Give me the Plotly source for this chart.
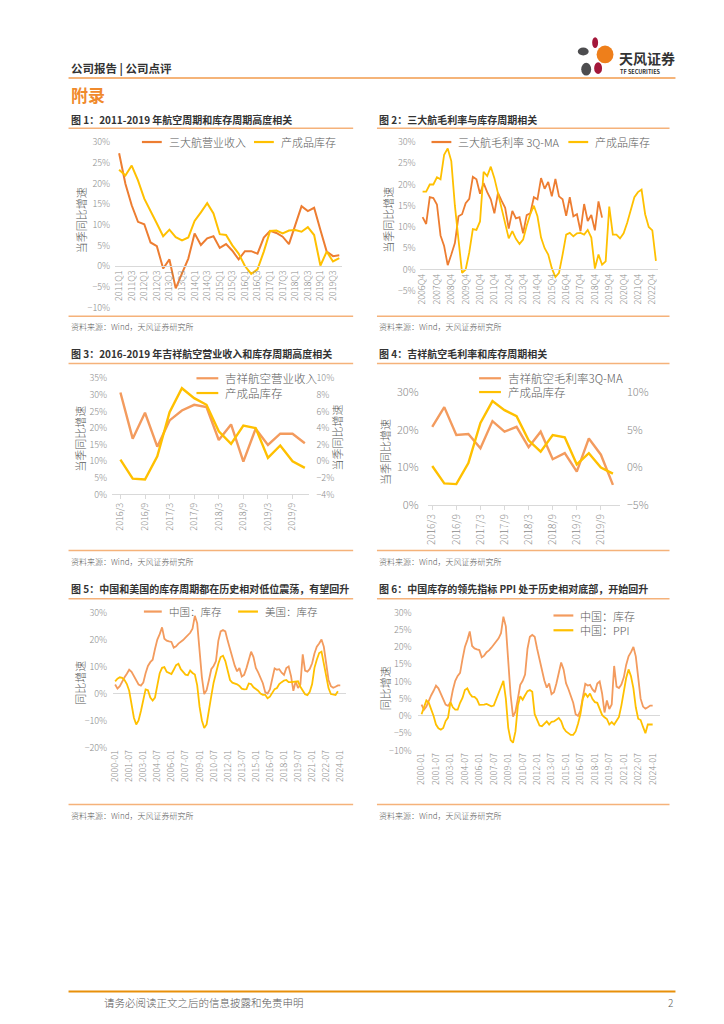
import pandas as pd
import plotly.graph_objects as go

W, H = 724, 1024


def X(px):
    return px / W


def Y(py):
    return 1 - py / H


FONT = "Noto Sans CJK SC"
ORANGE = "#ED7D31"
ORANGE_L = "#F39B5E"
YELLOW = "#FFC000"
RULE = "#F5B27A"
TICK = "#8C8C8C"
TXT = "#595959"
AXIS = "#D9D9D9"

# ---------------- data ----------------
# Chart 1 : 2011Q1 - 2019Q4
c1_quarters = [f"{y}Q{q}" for y in range(2011, 2020) for q in range(1, 5)]
c1_names = ["三大航营业收入", "产成品库存"]
c1_airline_rev = [27.3, 19.9, 14.7, 10.7, 10.1, 5.7, 4.8, -0.6, 1.6, -5.4, -1.8, 1.8,
                  7.9, 5.1, 6.7, 7.2, 4.4, 5.3, 3.7, 1.6, 3.6, 3.6, 3.0, 6.9,
                  8.5, 8.0, 7.1, 5.3, 9.9, 14.5, 13.3, 14.1, 8.7, 3.5, 2.4, 2.6]
c1_inventory = [23.3, 21.9, 24.3, 20.7, 16.3, 13.1, 10.3, 7.2, 8.8, 7.0, 6.2, 6.9,
                10.9, 13.0, 15.2, 12.7, 7.7, 7.5, 5.0, 3.0, 0.0, -1.9, -0.8, 3.5,
                8.5, 8.6, 7.9, 8.6, 8.7, 8.3, 9.4, 7.5, 0.1, 3.5, 1.1, 1.9]

# Chart 2 : 2006Q4 - 2023Q1
c2_quarters = ["2006Q4"] + [f"{y}Q{q}" for y in range(2007, 2023) for q in range(1, 5)] + ["2023Q1"]
c2_names = ["三大航毛利率 3Q-MA", "产成品库存"]
c2_margin = [12.3, 10.7, 17.0, 16.8, 15.3, 8.0, 5.5, 1.0, 3.5, 6.2, 12.5, 13.0, 15.6,
             16.6, 21.8, 21.2, 17.8, 20.3, 18.2, 16.5, 13.2, 18.0, 16.2, 14.5, 9.6,
             13.8, 12.0, 12.3, 8.5, 12.8, 13.2, 17.0, 16.5, 21.5, 19.0, 20.6, 17.2,
             21.3, 17.2, 16.5, 12.6, 17.0, 12.5, 13.0, 9.0, 15.4, 11.4, 12.8, 9.2,
             16.0, 12.2]
c2_inventory = [18.3, 18.3, 20.0, 20.0, 21.7, 21.2, 27.0, 28.5, 25.5, 15.0, 7.0, -0.8,
                0.0, 4.0, 9.5, 9.3, 11.3, 23.0, 22.0, 24.2, 21.5, 18.0, 14.0, 10.5,
                7.3, 9.0, 7.2, 6.0, 7.0, 10.3, 13.0, 15.0, 12.5, 7.5, 5.0, 3.5, 0.3,
                -1.8, -0.8, 3.5, 8.2, 8.6, 7.8, 8.5, 8.6, 8.2, 9.3, 7.5, 0.2, 3.5,
                1.1, 1.9, 14.8, 8.2, 8.2, 7.3, 8.5, 11.0, 13.8, 17.0, 18.2, 18.8,
                13.0, 10.0, 9.2, 2.0]

# Charts 3 & 4 : 2016/3 - 2019/12
c34_periods = [f"{y}/{m}" for y in range(2016, 2020) for m in (3, 6, 9, 12)]
c3_names = ["吉祥航空营业收入", "产成品库存"]
c4_names = ["吉祥航空毛利率3Q-MA", "产成品库存"]
c3_revenue = [30.7, 16.8, 24.6, 14.4, 22.3, 25.3, 27.0, 26.3, 16.4, 21.1, 9.9, 19.8,
              14.9, 18.3, 18.3, 15.4]
c4_margin = [20.8, 26.0, 18.6, 18.9, 15.1, 22.3, 19.5, 20.8, 15.4, 19.5, 12.2, 13.8,
             8.9, 17.7, 13.4, 5.4]
jx_inventory = [0.2, -2.1, -2.2, 0.6, 5.9, 8.8, 7.6, 6.8, 3.6, 2.1, 4.3, 4.0, 0.4,
                1.9, 0.0, -0.8]

# Charts 5 & 6 : quarterly readings 2000-01 onward
c56_dates = pd.date_range("2000-01-01", periods=97, freq="QS").strftime("%Y-%m-%d").tolist()
c56_ticks = ["2000-01", "2001-07", "2003-01", "2004-07", "2006-01", "2007-07", "2009-01",
             "2010-07", "2012-01", "2013-07", "2015-01", "2016-07", "2018-01", "2019-07",
             "2021-01", "2022-07", "2024-01"]
c5_names = ["中国：库存", "美国：库存"]
c6_names = ["中国：库存", "中国：PPI"]
china_inventory = [3.3, 1.8, 2.7, 4.5, 6.0, 7.3, 8.8, 8.0, 6.5, 4.7,
                   3.3, 2.9, 4.0, 7.5, 10.2, 11.6, 12.5, 16.5, 20.0, 22.0,
                   24.5, 20.3, 19.6, 19.3, 19.1, 17.0, 17.5, 18.5, 19.0, 19.8,
                   20.7, 21.7, 22.5, 24.0, 28.8, 26.0, 16.6, 6.0, -0.2, 1.2,
                   5.0, 9.0, 10.2, 12.0, 19.5, 23.0, 23.5, 23.0, 19.5, 16.5,
                   13.0, 10.3, 8.2, 9.4, 6.3, 6.9, 9.4, 12.5, 15.5, 13.5,
                   9.5, 7.8, 6.0, 3.8, 0.5, 0.0, 1.5, 5.0, 9.3, 8.8,
                   9.0, 7.7, 6.9, 9.4, 10.0, 6.5, 1.0, 4.5, 2.0, 3.3,
                   14.5, 8.5, 8.1, 9.1, 11.2, 14.8, 17.3, 18.5, 20.0, 17.3,
                   11.2, 5.0, 2.7, 2.1, 2.5, 3.0, 3.0]
us_inventory = [4.5, 5.5, 6.0, 5.8, 5.0, 3.5, 1.0, -4.5, -9.0, -11.5,
                -10.0, -6.5, -2.5, 1.5, 1.2, -1.5, -2.6, -1.5, 3.0, 7.5,
                9.5, 9.8, 8.0, 7.5, 7.2, 8.8, 10.5, 11.0, 9.0, 8.0,
                7.0, 6.8, 8.5, 7.6, 7.0, 3.0, -5.0, -10.0, -12.8, -11.5,
                -5.5, -1.0, 4.0, 8.0, 11.0, 13.5, 14.0, 12.0, 8.5, 5.0,
                4.0, 3.8, 3.4, 2.8, 1.8, 1.5, 1.6, 3.7, 3.5, 2.3,
                1.7, 1.0, 0.0, -0.5, -0.5, -1.8, -1.2, 0.3, 1.6, 2.0,
                3.5, 4.2, 4.8, 5.0, 4.2, 4.2, 4.3, 4.2, 4.5, 2.5,
                1.0, -0.3, -0.6, 0.6, 3.5, 9.5, 12.5, 15.0, 15.5, 11.0,
                6.5, 2.0, -0.2, -0.3, -0.6, 0.8]
china_ppi = [0.5, 2.5, 4.5, 3.8, 2.0, 0.0, -2.5, -3.6, -4.0, -3.5,
             -1.5, -0.5, 4.0, 2.5, 1.8, 1.8, 3.8, 5.2, 7.5, 8.0,
             6.5, 5.6, 5.5, 4.8, 3.2, 3.2, 3.3, 3.5, 3.2, 2.8,
             3.0, 4.8, 7.0, 8.8, 10.2, 5.0, -3.5, -7.0, -7.8, -4.5,
             3.0, 5.7, 4.7, 6.0, 7.2, 7.5, 7.0, 0.5, -1.2, -2.8,
             -3.0, -2.2, -1.6, -2.5, -1.7, -1.6, -1.2, -0.6, -1.5, -3.5,
             -4.5, -5.0, -5.5, -5.5, -4.5, -2.3, 0.5, 5.0, 6.6, 5.5,
             6.5, 4.9, 4.0, 3.8, 1.8, 0.3, -0.4, -0.9, -2.5, -1.8,
             -2.5, -1.5, -0.3, 3.0, 7.5, 11.0, 13.5, 11.5, 8.0, 2.5,
             -0.8, -1.2, -3.2, -5.0, -2.5, -2.5, -2.5]

# ---------------- figure ----------------
fig = go.Figure()


def line(xv, yv, color, width, xa, ya, name):
    fig.add_trace(go.Scatter(x=xv, y=yv, mode="lines", name=name,
                             line=dict(color=color, width=width),
                             xaxis=xa, yaxis=ya, showlegend=False,
                             hoverinfo="skip"))


line(c1_quarters, c1_airline_rev, ORANGE, 2, "x", "y", c1_names[0])
line(c1_quarters, c1_inventory, YELLOW, 2, "x", "y", c1_names[1])

line(c2_quarters[:len(c2_margin)], c2_margin, ORANGE, 1.8, "x2", "y2", c2_names[0])
line(c2_quarters, c2_inventory, YELLOW, 1.8, "x2", "y2", c2_names[1])

line(c34_periods, c3_revenue, ORANGE_L, 2.4, "x3", "y3", c3_names[0])
line(c34_periods, jx_inventory, YELLOW, 2.4, "x3", "y4", c3_names[1])

line(c34_periods, c4_margin, ORANGE_L, 2.4, "x4", "y5", c4_names[0])
line(c34_periods, jx_inventory, YELLOW, 2.4, "x4", "y6", c4_names[1])

line(c56_dates[:len(china_inventory)], china_inventory, ORANGE_L, 1.8, "x5", "y7", c5_names[0])
line(c56_dates[:len(us_inventory)], us_inventory, YELLOW, 1.8, "x5", "y7", c5_names[1])

line(c56_dates[:len(china_inventory)], china_inventory, ORANGE_L, 1.8, "x6", "y8", c6_names[0])
line(c56_dates[:len(china_ppi)], china_ppi, YELLOW, 1.8, "x6", "y8", c6_names[1])

tickfont9 = dict(family=FONT, size=9, color=TICK, weight=300)
tickfont11 = dict(family=FONT, size=11, color=TICK, weight=300)


def xcat(dom, rng, tickvals, anchor, position=None, ticks="", font=tickfont9):
    d = dict(domain=[X(dom[0]), X(dom[1])], type="category", range=rng,
             tickmode="array", tickvals=tickvals, ticktext=tickvals,
             tickangle=-90, tickfont=font, showline=True, linecolor=AXIS,
             linewidth=1, showgrid=False, zeroline=False, ticks=ticks,
             ticklen=4, tickcolor=AXIS, fixedrange=True)
    if position is not None:
        d["anchor"] = "free"
        d["position"] = Y(position)
    else:
        d["anchor"] = anchor
    return d


def yval(dom, rng, dtick, anchor, font=tickfont9, side="left", overlay=None,
         zeroline=False, standoff=4):
    d = dict(domain=[Y(dom[0]), Y(dom[1])], range=rng, dtick=dtick,
             ticksuffix="%", tickfont=font, showgrid=False, showline=False,
             zeroline=zeroline, zerolinecolor=AXIS, zerolinewidth=1,
             anchor=anchor, side=side, ticks="", ticklabelstandoff=standoff,
             fixedrange=True)
    if overlay:
        d["overlaying"] = overlay
        d.pop("domain")
    return d


def xdate(dom, rng):
    return dict(domain=[X(dom[0]), X(dom[1])], type="date", range=rng,
                tickmode="array", tickvals=c56_ticks, ticktext=c56_ticks,
                tickangle=-90, tickfont=tickfont9, showline=False,
                showgrid=False, zeroline=False, ticks="", fixedrange=True)


c2_q4 = [q for q in c2_quarters if q.endswith("Q4")]

fig.update_layout(
    width=W, height=H, autosize=False,
    margin=dict(l=0, r=0, t=0, b=0),
    paper_bgcolor="white", plot_bgcolor="rgba(0,0,0,0)",
    font=dict(family=FONT, color=TXT),
    showlegend=False,
    xaxis=xcat((103, 332), [-0.63, 35.47], c1_quarters[::2], "y", position=252.7),
    yaxis=yval((295, 127), [-10, 30], 5, "x"),
    xaxis2=xcat((410, 650), [-0.83, 65.47], c2_q4, "y2", position=256.4),
    yaxis2=yval((278, 127), [-5, 30], 5, "x2", standoff=3),
    xaxis3=xcat((100, 298), [-0.67, 15.3], c34_periods[::2], "y3", ticks="outside"),
    yaxis3=yval((485, 367), [0, 35], 5, "x3"),
    yaxis4=yval((485, 367), [-4, 10], 2, "x3", side="right", overlay="y3", standoff=7),
    xaxis4=xcat((418, 612), [-0.39, 15.58], c34_periods[::2], "y5", ticks="outside",
                font=dict(family=FONT, size=10, color=TICK, weight=300)),
    yaxis5=yval((496, 381), [0, 30], 10, "x4", font=tickfont11, standoff=8),
    yaxis6=yval((496, 381), [-5, 10], 5, "x4", font=tickfont11, side="right",
                overlay="y5", standoff=6),
    xaxis5=xdate((101, 336), ["1999-10-16", "2024-08-20"]),
    yaxis7=yval((742, 605), [-20, 30], 10, "x5", zeroline=True, standoff=5),
    xaxis6=xdate((408, 652), ["1999-08-04", "2024-09-20"]),
    yaxis8=yval((745, 605), [-10, 30], 5, "x6", zeroline=True, standoff=5),
)
fig.update_layout(xaxis5=dict(anchor="y7"), xaxis6=dict(anchor="y8"))

shapes = []
annotations = []


def hline(x0, x1, y, color, width=1.5):
    shapes.append(dict(type="line", xref="paper", yref="paper", x0=X(x0), x1=X(x1),
                       y0=Y(y), y1=Y(y), line=dict(color=color, width=width)))


def text(x, y, s, size, color=TXT, bold=False, xanchor="left", angle=0):
    annotations.append(dict(xref="paper", yref="paper", x=X(x), y=Y(y),
                            text=f"<b>{s}</b>" if bold else s, showarrow=False,
                            xanchor=xanchor, yanchor="middle", textangle=angle,
                            font=dict(family=FONT, size=size, color=color,
                                      weight=700 if bold else 300)))


def ellipse(cx, cy, rx, ry, color):
    shapes.append(dict(type="circle", xref="paper", yref="paper",
                       x0=X(cx - rx), x1=X(cx + rx), y0=Y(cy + ry), y1=Y(cy - ry),
                       fillcolor=color, line=dict(width=0)))


# header
text(56, 52, "公司报告 | 公司点评", 11.5, "#333333", bold=True)
hline(56, 668, 62, "#F29B4C", 1.5)
text(56, 79, "附录", 17, "#F08A2C", bold=True)
ellipse(575, 35, 5.5, 4, "#4D4D4F")
ellipse(587, 26, 3, 5.5, "#A3173A")
ellipse(597, 38, 8.5, 9, "#EE7F1B")
ellipse(590, 52, 4, 6, "#A3173A")
ellipse(578, 53, 5, 6.5, "#4D4D4F")
text(639, 42, "天风证券", 14, "#333333", bold=True, xanchor="center")
text(610, 56, "TF SECURITIES", 5.5, "#333333", bold=True)

# chart titles, rules, sources
titles = [
    (56, 104, "图 1：2011-2019 年航空周期和库存周期高度相关"),
    (367, 104, "图 2：三大航毛利率与库存周期相关"),
    (56, 342, "图 3：2016-2019 年吉祥航空营业收入和库存周期高度相关"),
    (367, 342, "图 4：吉祥航空毛利率和库存周期相关"),
    (56, 581, "图 5：中国和美国的库存周期都在历史相对低位震荡，有望回升"),
    (367, 581, "图 6：中国库存的领先指标 PPI 处于历史相对底部，开始回升"),
]
for x, y, s in titles:
    text(x, y, s, 10, "#333333", bold=True)

for top, bottom, src in [(113, 304, 314), (352, 542, 553), (591, 800, 811)]:
    hline(56, 343, top, RULE)
    hline(367, 662, top, RULE)
    hline(56, 343, bottom, RULE)
    hline(367, 662, bottom, RULE)
    text(56, src, "资料来源：Wind，天风证券研究所", 8, TXT)
    text(367, src, "资料来源：Wind，天风证券研究所", 8, TXT)

# axis titles
for x, y, s in [(68, 206, "当季同比增速"), (378, 206, "当季同比增速"),
                (68, 428, "当季同比增速"), (327, 427, "当季同比增速"),
                (375, 442, "当季同比增速"), (68, 676, "同比增速"),
                (375, 682, "同比增速")]:
    text(x, y, s, 11, TXT, xanchor="center", angle=-90)


# legends
def legend_item(x0, x1, y, color, label, size=11):
    hline(x0, x1, y, color, 2.2)
    text(x1 + 5, y, label, size, TXT)


legend_item(130, 150, 127, ORANGE, c1_names[0])
legend_item(243, 263, 127, YELLOW, c1_names[1])
legend_item(422, 442, 127, ORANGE, c2_names[0])
legend_item(560, 580, 127, YELLOW, c2_names[1])
legend_item(185, 207, 367, ORANGE_L, c3_names[0], 11.5)
legend_item(185, 207, 382, YELLOW, c3_names[1], 11.5)
legend_item(470, 492, 367, ORANGE_L, c4_names[0], 11.5)
legend_item(470, 492, 381, YELLOW, c4_names[1], 11.5)
legend_item(132, 150, 604, ORANGE_L, c5_names[0], 10.5)
legend_item(227, 247, 604, YELLOW, c5_names[1], 10.5)
legend_item(545, 565, 608, ORANGE_L, c6_names[0], 11)
legend_item(545, 565, 623, YELLOW, c6_names[1], 11)

# footer
hline(56, 668, 990, "#E8900A", 2)
text(90, 1001, "请务必阅读正文之后的信息披露和免责申明", 10.5, TXT)
text(668, 1001, "2", 10, TXT, xanchor="right")

fig.update_layout(shapes=shapes, annotations=annotations)
fig.write_html("out.html")
